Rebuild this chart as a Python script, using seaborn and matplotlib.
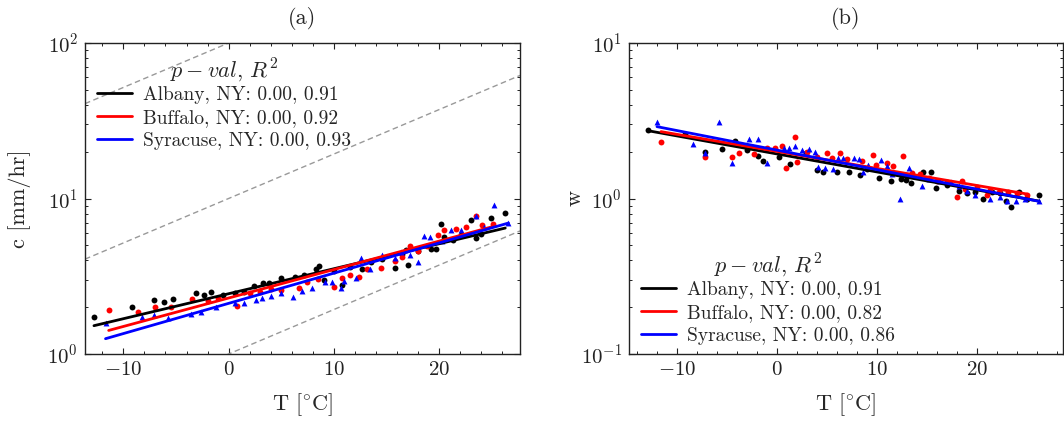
import numpy as np
import pandas as pd
import seaborn as sns
import matplotlib.pyplot as plt
from matplotlib.ticker import MultipleLocator, LogLocator

# ---------------- data ----------------
stations = ["Albany, NY", "Buffalo, NY", "Syracuse, NY"]
colors = ["black", "red", "blue"]
markers = ["o", "o", "^"]

# panel (a): c [mm/hr] vs T
Ta_alb = [-12.8, -9.2, -7.1, -6.1, -5.3, -3.1, -2.3, -1.7, -0.5, 0.6, 1.5, 2.4, 3.3, 3.8, 5.0, 6.3,
          7.2, 8.3, 8.6, 9.1, 10.0, 10.8, 11.5, 12.7, 13.5, 14.6, 15.8, 16.5, 16.9, 17.1, 18.0, 19.2,
          19.7, 20.2, 20.5, 21.3, 22.1, 23.0, 23.5, 24.0, 24.9, 26.3]
ca_alb = [1.74, 2.00, 2.22, 2.16, 2.25, 2.48, 2.39, 2.52, 2.40, 2.46, 2.50, 2.74, 2.85, 2.85, 3.10, 3.14,
          3.20, 3.51, 3.68, 2.99, 3.40, 2.77, 3.60, 3.51, 3.90, 4.10, 3.59, 4.40, 4.66, 3.72, 4.60, 4.71,
          4.74, 6.85, 5.68, 5.40, 5.82, 7.27, 5.55, 5.91, 7.53, 8.03]
Ta_buf = [-11.4, -8.6, -7.0, -5.5, -3.5, -2.0, -1.0, 0.8, 2.0, 3.0, 4.0, 5.0, 6.7, 7.5, 8.5, 10.0,
          10.8, 11.5, 12.4, 13.2, 14.5, 15.8, 16.5, 17.2, 18.0, 18.9, 19.9, 20.5, 21.6, 22.6, 23.5,
          24.1, 25.1]
ca_buf = [1.92, 1.87, 2.00, 2.00, 2.25, 2.20, 2.30, 2.04, 2.46, 2.50, 2.60, 2.58, 2.65, 2.90, 3.05, 2.71,
          3.07, 3.20, 3.13, 3.51, 3.56, 3.96, 4.20, 4.95, 4.60, 4.95, 5.82, 6.27, 6.35, 6.60, 7.71,
          6.75, 6.90]
Ta_syr = [-11.7, -8.2, -7.1, -5.8, -3.6, -2.6, -1.2, 0.6, 1.5, 2.6, 3.2, 4.0, 5.0, 6.1, 7.0, 7.9,
          9.2, 9.8, 10.7, 11.0, 12.1, 12.6, 13.4, 14.6, 15.8, 16.4, 17.2, 18.0, 18.6, 19.1, 20.3,
          21.1, 22.1, 23.5, 24.3, 25.2, 26.6]
ca_syr = [1.58, 1.74, 1.78, 1.70, 1.82, 1.87, 2.00, 2.12, 2.12, 2.22, 2.30, 2.36, 2.45, 2.33, 2.55, 2.64,
          2.90, 2.90, 2.64, 2.96, 3.10, 4.16, 3.51, 4.33, 4.15, 4.50, 4.30, 3.92, 5.74, 5.65, 5.30,
          6.30, 6.30, 7.70, 6.60, 9.08, 7.00]

# panel (b): w vs T
Tb_alb = [-12.9, -9.2, -7.2, -5.5, -4.2, -3.0, -1.9, -1.4, 0.2, 1.3, 2.9, 4.0, 4.6, 6.0, 7.2, 8.3,
          9.0, 10.2, 11.4, 12.4, 12.9, 13.4, 14.6, 15.4, 15.9, 17.0, 18.2, 19.0, 19.8, 20.6, 21.5,
          22.3, 22.9, 23.4, 24.2, 25.0, 26.2]
wb_alb = [2.75, 2.60, 2.00, 2.08, 2.34, 2.05, 1.88, 1.74, 1.85, 1.67, 1.95, 1.52, 1.47, 1.48, 1.48, 1.42,
          1.55, 1.35, 1.30, 1.33, 1.32, 1.25, 1.48, 1.47, 1.16, 1.22, 1.12, 1.08, 1.10, 0.99, 1.10,
          1.08, 0.97, 0.885, 1.10, 1.00, 1.05]
Tb_buf = [-11.6, -7.2, -4.5, -3.8, -2.3, -1.0, -0.2, 0.5, 0.9, 1.8, 2.0, 3.0, 4.0, 5.0, 5.5, 6.3,
          7.0, 8.5, 9.6, 9.9, 11.0, 11.6, 12.6, 13.5, 14.3, 15.2, 16.0, 17.0, 18.0, 18.5, 18.8,
          20.0, 21.0, 21.3, 22.2, 23.1, 24.0, 25.0]
wb_buf = [2.32, 1.85, 1.84, 1.95, 1.93, 2.10, 2.12, 2.17, 1.57, 2.48, 1.72, 2.00, 1.85, 1.97, 1.83, 1.95,
          1.80, 1.74, 1.90, 1.64, 1.70, 1.63, 1.88, 1.45, 1.43, 1.35, 1.30, 1.28, 1.03, 1.30, 1.15,
          1.18, 1.05, 1.13, 1.10, 1.10, 1.08, 1.05]
Tb_syr = [-12.0, -8.4, -7.2, -5.8, -4.5, -2.8, -1.9, -1.0, 0.7, 1.2, 1.8, 2.5, 3.2, 3.8, 4.1, 4.8,
          5.6, 6.1, 6.6, 7.7, 8.2, 8.6, 9.1, 10.4, 11.0, 11.5, 12.3, 13.2, 14.5, 15.2, 16.3, 17.4,
          18.2, 19.0, 19.8, 21.3, 22.3, 23.0, 23.9, 24.8, 26.2]
wb_syr = [3.12, 2.25, 1.95, 3.10, 1.70, 2.40, 2.40, 1.70, 2.12, 2.10, 2.17, 2.05, 2.08, 2.00, 1.60, 1.58,
          1.54, 1.83, 1.83, 1.83, 1.80, 1.47, 1.64, 1.77, 1.62, 1.43, 1.00, 1.57, 1.20, 1.33, 1.30, 1.28,
          1.20, 1.12, 1.05, 1.00, 1.02, 0.97, 0.97, 1.00, 0.96]

# fitted regressions in log10 space: (intercept, slope)
fit_a = [(0.3876, 0.01606), (0.360, 0.01829), (0.3256, 0.01942)]
fit_b = [(0.2866, -0.01158), (0.3029, -0.01096), (0.3112, -0.01257)]
pval_a = [0.00, 0.00, 0.00]
r2_a = [0.91, 0.92, 0.93]
pval_b = [0.00, 0.00, 0.00]
r2_b = [0.91, 0.82, 0.86]

# Clausius-Clapeyron reference lines (panel a)
cc_bases = [1.0, 10.0, 100.0]
cc_rate = 1.068

# ---------------- style ----------------
sns.set_style("ticks")
plt.rcParams.update({
    "font.family": "serif",
    "font.serif": ["cmr10"],
    "mathtext.fontset": "cm",
    "axes.formatter.use_mathtext": True,
    "axes.unicode_minus": True,
    "xtick.direction": "in", "ytick.direction": "in",
    "xtick.top": True, "ytick.right": True,
    "xtick.minor.visible": True, "ytick.minor.visible": True,
    "xtick.major.size": 4.0, "ytick.major.size": 4.0,
    "xtick.minor.size": 2.2, "ytick.minor.size": 2.2,
    "xtick.major.width": 0.8, "ytick.major.width": 0.8,
    "xtick.minor.width": 0.7, "ytick.minor.width": 0.7,
    "axes.linewidth": 1.0,
    "axes.edgecolor": "#222222",
    "xtick.color": "#222222", "ytick.color": "#222222",
    "font.size": 15,
})

fig = plt.figure(figsize=(10.64, 4.21), dpi=100)
ax_a = fig.add_axes([85 / 1064, 67 / 421, 435 / 1064, 311 / 421])
ax_b = fig.add_axes([629 / 1064, 67 / 421, 434 / 1064, 311 / 421])

data_a = [(Ta_alb, ca_alb), (Ta_buf, ca_buf), (Ta_syr, ca_syr)]
data_b = [(Tb_alb, wb_alb), (Tb_buf, wb_buf), (Tb_syr, wb_syr)]

# reference dashed lines
xa_lim = (-13.65, 27.7)
T_ref = np.array(xa_lim)
for base in cc_bases:
    sns.lineplot(x=T_ref, y=base * cc_rate ** T_ref, ax=ax_a, color="#999999",
                 lw=1.0, linestyle=(0, (4, 2.5)), legend=False)


def draw_panel(ax, datasets, fits, pvals, r2s):
    for (T, v), (a, b), col, mk, name, p, r2 in zip(datasets, fits, colors, markers, stations, pvals, r2s):
        sns.scatterplot(x=T, y=v, ax=ax, color=col, marker=mk, s=18, linewidth=0, legend=False, zorder=3)
        Tl = np.array([min(T), max(T)])
        sns.lineplot(x=Tl, y=10 ** (a + b * Tl), ax=ax, color=col, lw=2.0, zorder=4,
                     label=f"{name}: {p:.2f}, {r2:.2f}")
    ax.set_yscale("log")


draw_panel(ax_a, data_a, fit_a, pval_a, r2_a)
draw_panel(ax_b, data_b, fit_b, pval_b, r2_b)

ax_a.set_xlim(*xa_lim)
ax_a.set_ylim(1, 100)
ax_b.set_xlim(-14.8, 28.6)
ax_b.set_ylim(0.1, 10)

for ax in (ax_a, ax_b):
    ax.xaxis.set_major_locator(MultipleLocator(10))
    ax.xaxis.set_minor_locator(MultipleLocator(2))
    ax.yaxis.set_major_locator(LogLocator(base=10, numticks=10))
    ax.yaxis.set_minor_locator(LogLocator(base=10, subs=np.arange(2, 10), numticks=20))
    ax.tick_params(which="both", top=True, right=True, labelsize=15, pad=5)
    ax.set_xlabel(r"T [$^{\circ}$C]", fontsize=16, labelpad=9)
    for s in ax.spines.values():
        s.set_visible(True)

ax_a.set_ylabel("c [mm/hr]", fontsize=16)
ax_b.set_ylabel("w", fontsize=16)
ax_a.yaxis.set_label_coords(-54 / 435, 0.5)
ax_b.yaxis.set_label_coords(-44 / 434, 0.5)
ax_a.set_title("(a)", fontsize=16, pad=14)
ax_b.set_title("(b)", fontsize=16, pad=14)

leg_title = r"$p-val$, $R^2$"
common = dict(frameon=False, title=leg_title, fontsize=14, title_fontsize=16,
              handlelength=1.8, labelspacing=0.26, handletextpad=0.6, borderpad=0.3)
la = ax_a.legend(loc="upper left", bbox_to_anchor=(0.0, 0.995), borderaxespad=0.3, **common)
lb = ax_b.legend(loc="lower left", bbox_to_anchor=(0.0, -0.008), borderaxespad=0.3, **common)
for leg in (la, lb):
    leg._legend_box.sep = 1.5

fig.savefig("out.png", dpi=100)
